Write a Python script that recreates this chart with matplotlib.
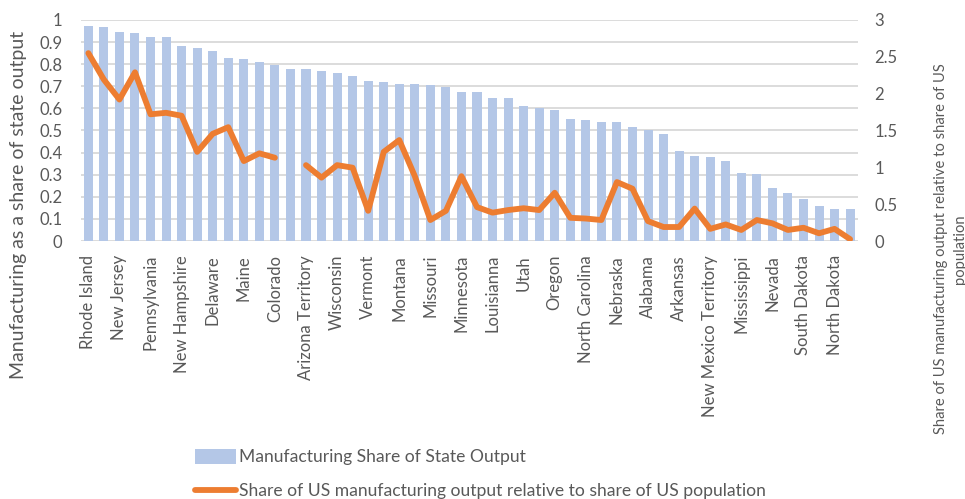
import numpy as np
import matplotlib.pyplot as plt
from matplotlib.ticker import FuncFormatter

# State names (only every other one is labelled on the axis)
states = ["Rhode Island", "Massachusetts", "New Jersey", "Connecticut", "Pennsylvania",
          "New York", "New Hampshire", "Ohio", "Delaware", "Maryland",
          "Maine", "Illinois", "Colorado", "Alaska", "Arizona Territory",
          "Indiana", "Wisconsin", "California", "Vermont", "Washington",
          "Montana", "Idaho", "Missouri", "Wyoming", "Minnesota",
          "Iowa", "Louisianna", "Kentucky", "Utah", "West Virginia",
          "Oregon", "Virginia", "North Carolina", "Georgia", "Nebraska",
          "Tennessee", "Alabama", "South Carolina", "Arkansas", "Texas",
          "New Mexico Territory", "Kansas", "Mississippi", "Florida", "Nevada",
          "Oklahoma Territory", "South Dakota", "Indian Territory", "North Dakota", "Hawaii"]

# Manufacturing share of state output (left axis)
mfg_share = [0.974, 0.970, 0.947, 0.943, 0.925, 0.923, 0.884, 0.875, 0.861, 0.828,
             0.825, 0.809, 0.795, 0.777, 0.777, 0.767, 0.758, 0.747, 0.726, 0.721,
             0.709, 0.709, 0.706, 0.696, 0.675, 0.673, 0.648, 0.645, 0.611, 0.602,
             0.592, 0.554, 0.547, 0.538, 0.538, 0.518, 0.500, 0.485, 0.407, 0.386,
             0.381, 0.363, 0.309, 0.303, 0.241, 0.215, 0.188, 0.160, 0.146, 0.143]

# Share of US manufacturing output relative to share of US population (right axis)
rel_share = [2.55, 2.19, 1.92, 2.29, 1.72, 1.74, 1.70, 1.21, 1.455, 1.545,
             1.085, 1.19, 1.13, np.nan, 1.03, 0.86, 1.03, 0.995, 0.41, 1.21,
             1.37, 0.88, 0.285, 0.41, 0.88, 0.46, 0.385, 0.42, 0.445, 0.42,
             0.655, 0.315, 0.305, 0.285, 0.80, 0.71, 0.27, 0.19, 0.19, 0.44,
             0.165, 0.225, 0.15, 0.285, 0.24, 0.15, 0.18, 0.105, 0.165, 0.025]

plt.rcParams['font.family'] = ['Lato', 'DejaVu Sans']
grey = '#595959'
bar_color = '#B4C7E7'
line_color = '#ED7D31'

fig = plt.figure(figsize=(9.65, 4.99), dpi=100)
ax = fig.add_axes([0.0835, 0.517, 0.8055, 0.443])
ax2 = ax.twinx()

x = np.arange(len(states))
bars = ax.bar(x, mfg_share, width=0.58, color=bar_color, zorder=2,
              label='Manufacturing Share of State Output')
line, = ax2.plot(x, rel_share, color=line_color, lw=4.2, solid_capstyle='round',
                 solid_joinstyle='round', zorder=3,
                 label='Share of US manufacturing output relative to share of US population')

ax.set_xlim(-0.5, len(states) - 0.5)
ax.set_ylim(0, 1)
ax2.set_ylim(0, 3)
ax.set_yticks(np.arange(0, 1.01, 0.1))
ax2.set_yticks(np.arange(0, 3.01, 0.5))
ax.yaxis.set_major_formatter(FuncFormatter(lambda v, p: f"{v:g}"))
ax2.yaxis.set_major_formatter(FuncFormatter(lambda v, p: f"{v:g}"))
ax.grid(axis='y', color='#D9D9D9', lw=1.3, zorder=0)
ax.set_axisbelow(True)

ax.set_xticks(x[::2])
ax.set_xticklabels(states[::2], rotation=90, ha='center', va='top')

for a in (ax, ax2):
    for s in a.spines.values():
        s.set_visible(False)
ax.tick_params(axis='both', length=0, colors=grey, labelsize=12)
ax.tick_params(axis='y', pad=13)
ax.tick_params(axis='x', pad=10)
ax2.tick_params(axis='y', length=0, colors=grey, labelsize=12, pad=12)

ax.set_ylabel('Manufacturing as a share of state output', fontsize=14, color=grey,
              va='center', ha='center')
ax.yaxis.set_label_coords(-0.08, 0.165)
ax2.set_ylabel('Share of US manufacturing output relative to share of US\npopulation',
               fontsize=10.6, color=grey, rotation=90, va='center', ha='center',
               multialignment='center', linespacing=1.45)
ax2.yaxis.set_label_coords(1.119, -0.035)

fig.legend(handles=[bars, line], loc='upper left', bbox_to_anchor=(0.202, 0.1),
           frameon=False, fontsize=12.6, labelcolor=grey, borderpad=0, borderaxespad=0,
           labelspacing=1.0, handlelength=2.35, handleheight=0.9, handletextpad=0.15)

fig.savefig('out.png', dpi=100)
